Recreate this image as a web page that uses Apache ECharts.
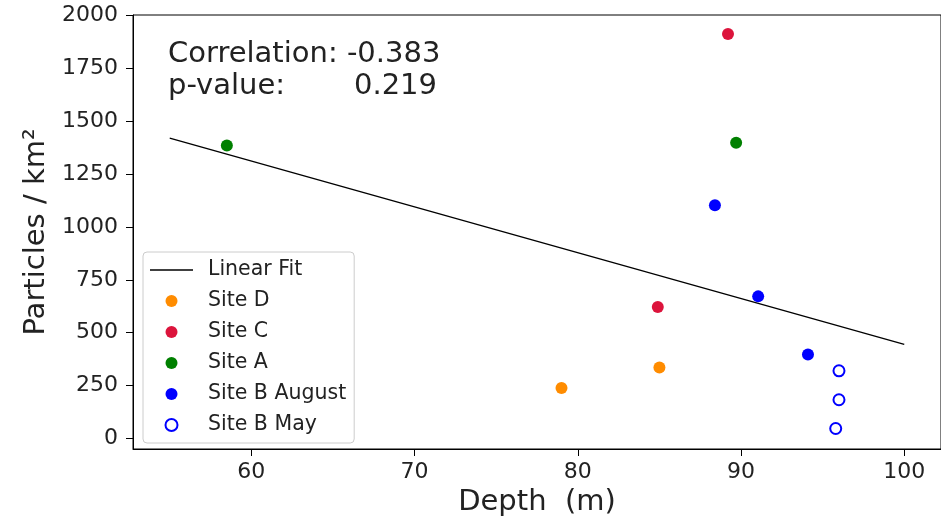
<!DOCTYPE html>
<html>
<head>
<meta charset="utf-8">
<script src="https://cdn.jsdelivr.net/npm/echarts@6/dist/echarts.min.js"></script>
<style>
  html, body { margin: 0; padding: 0; background: #fff; }
  #main { width: 941px; height: 522px; }
</style>
</head>
<body>
<div id="main"></div>
<script>
// values: [depth m, particles / km2]
var siteD = [[79.0, 238], [85.0, 336]];
var siteC = [[84.9, 622], [89.2, 1913]];
var siteA = [[58.5, 1386], [89.7, 1399]];
var siteBAug = [[88.4, 1103], [91.05, 672], [94.1, 397]];
var siteBMay = [[96.0, 320], [96.0, 183], [95.8, 47]];
var linearFit = [[55, 1421], [100, 445]];

var xTicks = [60, 70, 80, 90, 100];
var yTicks = [0, 250, 500, 750, 1000, 1250, 1500, 1750, 2000];

var corrText = 'Correlation: -0.383';
var pLabel = 'p-value:';
var pValue = '0.219';

document.addEventListener('DOMContentLoaded', function () {
  var myChart = echarts.init(document.getElementById('main'));
  var font = 'DejaVu Sans';
  var ink = '#222';

  function dots(name, data, color) {
    return {
      name: name,
      type: 'scatter',
      data: data,
      symbolSize: 12,
      itemStyle: { color: color, opacity: 1 },
      z: 3
    };
  }

  var option = {
    animation: false,
    backgroundColor: '#fff',
    grid: {
      left: 133, top: 15, width: 810, height: 438,
      show: true, borderColor: '#000', borderWidth: 1
    },
    xAxis: {
      type: 'value',
      min: 52.75, max: 102.25,
      name: 'Depth  (m)',
      nameLocation: 'middle',
      nameGap: 39,
      nameTextStyle: { fontFamily: font, fontSize: 29, color: ink },
      splitLine: { show: false },
      axisLine: { onZero: false, lineStyle: { color: '#000', width: 1 } },
      axisTick: { length: 7, customValues: xTicks, lineStyle: { color: '#000' } },
      axisLabel: { customValues: xTicks, margin: 12, fontFamily: font, fontSize: 22, color: ink,
        formatter: function (v) { return String(v); } }
    },
    yAxis: {
      type: 'value',
      min: -50, max: 2003,
      name: 'Particles / km²',
      nameLocation: 'middle',
      nameGap: 73,
      nameTextStyle: { fontFamily: font, fontSize: 29, color: ink },
      splitLine: { show: false },
      axisLine: { show: true, onZero: false, lineStyle: { color: '#000', width: 1 } },
      axisTick: { show: true, length: 7, customValues: yTicks, lineStyle: { color: '#000' } },
      axisLabel: { customValues: yTicks, margin: 15, fontFamily: font, fontSize: 22, color: ink,
        formatter: function (v) { return String(v); } }
    },
    legend: {
      orient: 'vertical',
      left: 143, top: 252,
      padding: [7, 8, 7, 7],
      itemWidth: 43, itemHeight: 12, itemGap: 9,
      borderColor: '#ccc', borderWidth: 1, borderRadius: 4,
      backgroundColor: '#fff',
      textStyle: { fontFamily: font, fontSize: 20.5, color: ink, lineHeight: 22, padding: [0, 0, 0, 10] },
      data: [
        { name: 'Linear Fit', icon: 'path://M0 0H43V1.3H0Z', itemStyle: { color: '#000' } },
        { name: 'Site D', icon: 'circle' },
        { name: 'Site C', icon: 'circle' },
        { name: 'Site A', icon: 'circle' },
        { name: 'Site B August', icon: 'circle' },
        { name: 'Site B May', icon: 'circle', itemStyle: { color: '#fff', borderColor: '#0000ff', borderWidth: 2 } }
      ]
    },
    graphic: [
      { type: 'text', left: 168, top: 40, style: { text: corrText, font: '29px "DejaVu Sans"', fill: ink } },
      { type: 'text', left: 168, top: 72, style: { text: pLabel, font: '29px "DejaVu Sans"', fill: ink } },
      { type: 'text', left: 354, top: 72, style: { text: pValue, font: '29px "DejaVu Sans"', fill: ink } }
    ],
    series: [
      {
        name: 'Linear Fit',
        type: 'line',
        data: linearFit,
        symbol: 'none',
        lineStyle: { color: '#000', width: 1.3 },
        itemStyle: { color: '#000' },
        z: 2
      },
      dots('Site D', siteD, '#ff8c00'),
      dots('Site C', siteC, '#dc143c'),
      dots('Site A', siteA, '#008000'),
      dots('Site B August', siteBAug, '#0000ff'),
      {
        name: 'Site B May',
        type: 'scatter',
        data: siteBMay,
        symbol: 'circle',
        symbolSize: 11,
        itemStyle: { color: '#fff', borderColor: '#0000ff', borderWidth: 2, opacity: 1 },
        z: 3
      }
    ]
  };
  myChart.setOption(option);
});
</script>
</body>
</html>
